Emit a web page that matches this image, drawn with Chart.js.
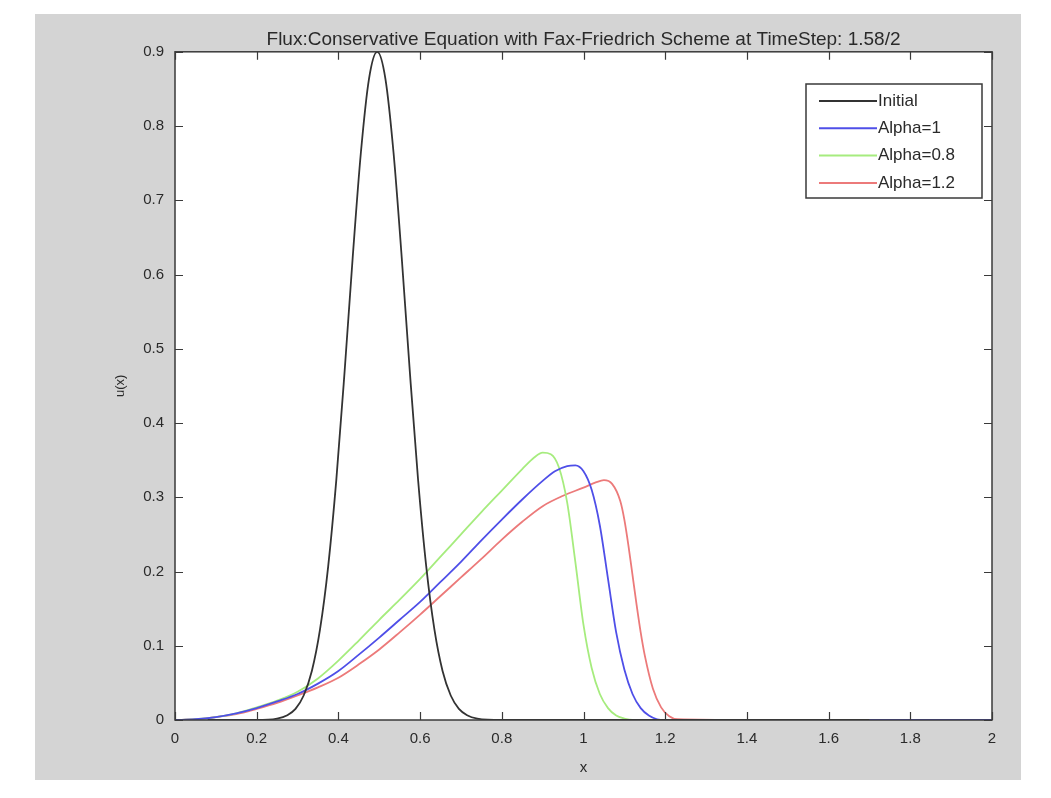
<!DOCTYPE html>
<html><head><meta charset="utf-8">
<script src="https://cdn.jsdelivr.net/npm/chart.js@4.4.1/dist/chart.umd.min.js"></script>
<style>html,body{margin:0;padding:0;background:#fff;overflow:hidden}canvas{display:block}</style>
</head><body>
<canvas id="c" width="1051" height="798"></canvas>
<script>
const titleText = "Flux:Conservative Equation with Fax-Friedrich Scheme at TimeStep: 1.58/2";
const xAxisTitle = "x";
const yAxisTitle = "u(x)";
const seriesLabels = ["Initial", "Alpha=1", "Alpha=0.8", "Alpha=1.2"];
const xTickValues = [0, 0.2, 0.4, 0.6, 0.8, 1, 1.2, 1.4, 1.6, 1.8, 2];
const xTickLabels = ["0", "0.2", "0.4", "0.6", "0.8", "1", "1.2", "1.4", "1.6", "1.8", "2"];
const yTickValues = [0, 0.1, 0.2, 0.3, 0.4, 0.5, 0.6, 0.7, 0.8, 0.9];
const yTickLabels = ["0", "0.1", "0.2", "0.3", "0.4", "0.5", "0.6", "0.7", "0.8", "0.9"];

const initialX = [0.08,0.2,0.25,0.275,0.295,0.315,0.335,0.355,0.375,0.395,0.415,0.435,0.455,0.475,0.495,0.515,0.535,0.555,0.575,0.595,0.615,0.635,0.655,0.675,0.695,0.715,0.74,0.8,1.0,1.2,1.4,1.7];
const initialY = [0,0,0.002,0.0065,0.015,0.033,0.066,0.122,0.207,0.324,0.468,0.623,0.764,0.864,0.9,0.864,0.764,0.623,0.468,0.324,0.207,0.122,0.066,0.033,0.015,0.0065,0.002,0,0,0,0,0];

const alpha1X = [0,0.05,0.1,0.15,0.2,0.25,0.3,0.35,0.4,0.45,0.5,0.55,0.6,0.65,0.7,0.75,0.8,0.85,0.9,0.93,0.96,0.98,1.0,1.02,1.04,1.06,1.08,1.1,1.12,1.14,1.16,1.18,1.2,1.4,1.6,1.8,2.0];
const alpha1Y = [0,0.001,0.004,0.009,0.016,0.025,0.035,0.049,0.066,0.088,0.111,0.135,0.159,0.186,0.213,0.242,0.27,0.297,0.322,0.335,0.342,0.343,0.335,0.31,0.262,0.19,0.118,0.068,0.035,0.016,0.006,0.001,0,0,0,0,0];

const alpha08X = [0,0.05,0.1,0.15,0.2,0.25,0.3,0.35,0.4,0.45,0.5,0.55,0.6,0.65,0.7,0.75,0.8,0.85,0.88,0.9,0.92,0.94,0.96,0.98,1.0,1.02,1.04,1.06,1.08,1.1,1.12,1.15,1.2,1.4,1.6,1.8,2.0];
const alpha08Y = [0,0.001,0.004,0.009,0.017,0.026,0.038,0.056,0.08,0.107,0.135,0.162,0.19,0.22,0.25,0.28,0.309,0.338,0.354,0.36,0.358,0.34,0.293,0.213,0.128,0.07,0.035,0.016,0.006,0.002,0,0,0,0,0,0,0];

const alpha12X = [0,0.05,0.1,0.15,0.2,0.25,0.3,0.35,0.4,0.45,0.5,0.55,0.6,0.65,0.7,0.75,0.8,0.85,0.9,0.95,1.0,1.03,1.05,1.07,1.09,1.1,1.11,1.12,1.13,1.14,1.15,1.17,1.19,1.21,1.23,1.4,1.6,1.8,2.0];
const alpha12Y = [0,0.001,0.004,0.008,0.015,0.023,0.033,0.044,0.057,0.075,0.095,0.118,0.142,0.167,0.192,0.217,0.243,0.267,0.288,0.302,0.313,0.32,0.323,0.318,0.295,0.27,0.235,0.195,0.155,0.118,0.087,0.042,0.017,0.005,0.001,0,0,0,0];

const seriesColors = ["#333333", "#4f4fe8", "#a6ec7e", "#ec7a7a"];
const FONT = "'Liberation Sans', Arial, sans-serif";
const TEXT = "#2a2a2a";

function pts(xs, ys) { return xs.map((x, i) => ({ x: x, y: ys[i] })); }

const frame = {
  id: 'frame',
  beforeDraw(chart) {
    const ctx = chart.ctx, a = chart.chartArea;
    ctx.save();
    ctx.fillStyle = '#ffffff';
    ctx.fillRect(0, 0, chart.width, chart.height);
    ctx.fillStyle = '#d4d4d4';
    ctx.fillRect(35, 14, 986, 766);
    ctx.fillStyle = '#ffffff';
    ctx.fillRect(a.left, a.top, a.right - a.left, a.bottom - a.top);
    ctx.restore();
  },
  afterDatasetsDraw(chart) {
    const ctx = chart.ctx, a = chart.chartArea;
    const xs = chart.scales.x, ys = chart.scales.y;
    ctx.save();
    ctx.strokeStyle = '#3a3a3a';
    ctx.lineWidth = 1.5;
    ctx.strokeRect(a.left, a.top, a.right - a.left, a.bottom - a.top);
    ctx.lineWidth = 1.2;
    ctx.beginPath();
    xTickValues.forEach(v => {
      const p = Math.round(xs.getPixelForValue(v)) + 0.5;
      ctx.moveTo(p, a.bottom); ctx.lineTo(p, a.bottom - 8);
      ctx.moveTo(p, a.top); ctx.lineTo(p, a.top + 8);
    });
    yTickValues.forEach(v => {
      const p = Math.round(ys.getPixelForValue(v)) + 0.5;
      ctx.moveTo(a.left, p); ctx.lineTo(a.left + 8, p);
      ctx.moveTo(a.right, p); ctx.lineTo(a.right - 8, p);
    });
    ctx.stroke();
    // legend
    const lx = 806, ly = 84, lw = 176, lh = 114;
    ctx.fillStyle = '#ffffff';
    ctx.fillRect(lx, ly, lw, lh);
    ctx.strokeStyle = '#3a3a3a';
    ctx.lineWidth = 1.5;
    ctx.strokeRect(lx, ly, lw, lh);
    ctx.font = "17px " + FONT;
    ctx.textBaseline = 'middle';
    ctx.textAlign = 'left';
    chart.data.datasets.forEach((ds, i) => {
      const y = 101 + i * 27.3;
      ctx.strokeStyle = ds.borderColor;
      ctx.lineWidth = 2;
      ctx.beginPath();
      ctx.moveTo(819, y); ctx.lineTo(877, y);
      ctx.stroke();
      ctx.fillStyle = TEXT;
      ctx.fillText(ds.label, 878, y);
    });
    ctx.restore();
  }
};

const datasets = [
  { label: seriesLabels[0], data: pts(initialX, initialY), borderColor: seriesColors[0] },
  { label: seriesLabels[1], data: pts(alpha1X, alpha1Y), borderColor: seriesColors[1] },
  { label: seriesLabels[2], data: pts(alpha08X, alpha08Y), borderColor: seriesColors[2] },
  { label: seriesLabels[3], data: pts(alpha12X, alpha12Y), borderColor: seriesColors[3] }
].map(d => Object.assign(d, { borderWidth: 1.8, pointRadius: 0, fill: false, cubicInterpolationMode: 'monotone' }));

new Chart(document.getElementById('c'), {
  type: 'line',
  data: { datasets: datasets },
  plugins: [frame],
  options: {
    responsive: false,
    animation: false,
    events: [],
    layout: { padding: { left: 100, right: 59, top: 0, bottom: 20 } },
    plugins: {
      legend: { display: false },
      tooltip: { enabled: false },
      title: {
        display: true, text: titleText, fullSize: false,
        color: TEXT, font: { family: FONT, size: 19, weight: 'normal' },
        padding: { top: 28, bottom: 1 }
      }
    },
    scales: {
      x: {
        type: 'linear', min: 0, max: 2,
        afterFit: s => { s.height = 58; },
        afterBuildTicks: s => { s.ticks = xTickValues.map(v => ({ value: v })); },
        grid: { display: false, drawTicks: false },
        border: { display: false },
        ticks: { padding: 10, color: TEXT, font: { family: FONT, size: 15 }, maxRotation: 0, autoSkip: false,
                 callback: (v) => xTickLabels[xTickValues.indexOf(v)] },
        title: { display: true, text: xAxisTitle, color: TEXT, font: { family: FONT, size: 15 }, padding: { top: 0, bottom: 1 } }
      },
      y: {
        type: 'linear', min: 0, max: 0.9,
        afterFit: s => { s.width = 75; },
        afterBuildTicks: s => { s.ticks = yTickValues.map(v => ({ value: v })); },
        grid: { display: false, drawTicks: false },
        border: { display: false },
        ticks: { padding: 11, color: TEXT, font: { family: FONT, size: 15 }, autoSkip: false,
                 callback: (v) => yTickLabels[yTickValues.indexOf(v)] },
        title: { display: true, text: yAxisTitle, color: TEXT, font: { family: FONT, size: 13 }, padding: { top: 13, bottom: 0 } }
      }
    }
  }
});
</script>
</body></html>
